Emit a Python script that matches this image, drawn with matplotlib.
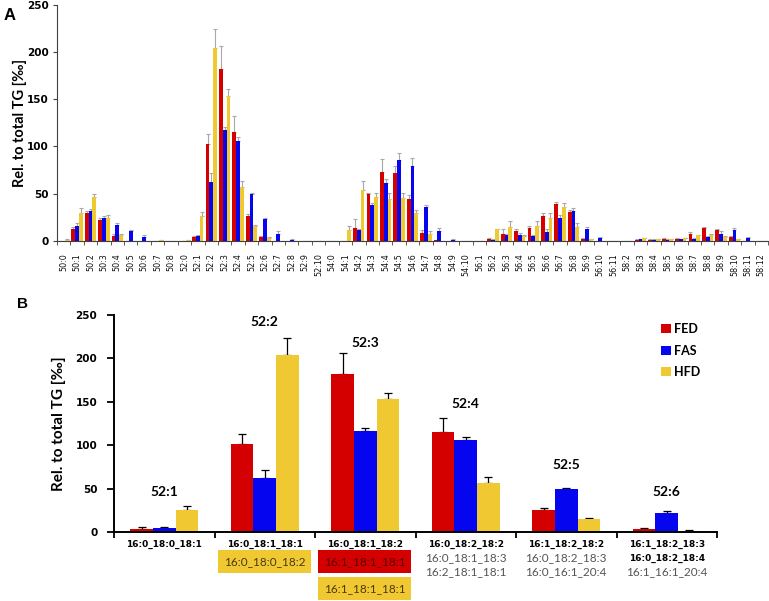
import numpy as np
import matplotlib
matplotlib.use("Agg")
import matplotlib.pyplot as plt
from matplotlib.patches import Rectangle
from matplotlib.transforms import blended_transform_factory

# ---- panel A data: all TG species ----
cats_a = (["50:%d" % i for i in range(0, 9)] + ["52:%d" % i for i in range(0, 11)]
          + ["54:%d" % i for i in range(0, 11)] + ["56:%d" % i for i in range(1, 12)]
          + ["58:%d" % i for i in range(2, 13)])

fed_a = [0, 12, 29, 22, 5, 0, 0, 0, 0,
         0, 3.5, 102, 182, 115, 26, 4, 0, 0, 0, 0,
         0, 0, 13.5, 49, 73, 72, 44.5, 8.5, 0.5, 0, 0,
         0, 1.5, 7.4, 10.6, 13.4, 26, 39, 30.7, 2, 0, 0,
         0, 1, 1, 2, 2, 7, 13.4, 11.3, 3.9, 0, 0]
fed_err_a = [0, 3, 2, 2, 2, 0, 0, 0, 0,
             0, 2, 11, 24, 17, 2, 1, 0, 0, 0, 0,
             0, 0, 9.5, 1.5, 14, 7, 3.5, 2.5, 0, 0, 0,
             0, 1.5, 4.6, 1.4, 2.6, 3, 1.6, 2.3, 0.5, 0, 0,
             0, 0.5, 0.5, 0.5, 0.5, 2.5, 1.6, 1.4, 1.1, 0, 0]
fas_a = [0, 16, 31, 24, 17, 10, 4, 0, 0,
         0, 5, 62, 117, 106, 50, 23, 7, 1, 0, 0,
         0, 0, 11.3, 37.8, 61.4, 85.5, 79.4, 35.7, 10.6, 1, 0,
         0, 1, 6, 6, 5, 9.2, 24, 31.8, 12.7, 2.5, 0,
         0, 1.4, 1, 1, 1.4, 2, 3.9, 7, 11.6, 2.8, 0]
fas_err_a = [0, 3, 3, 2, 2, 1, 2, 0, 0,
             0, 1, 10, 3, 4, 1, 1, 3, 1, 0, 0,
             0, 0, 1, 2, 3.6, 7.5, 8.2, 1.7, 2.4, 1, 0,
             0, 0.5, 1, 1.8, 1, 2.8, 3, 2.8, 1.3, 1.4, 0,
             0, 0.5, 0.5, 0.5, 0.5, 0.5, 1, 3, 1.4, 1.4, 0]
hfd_a = [1, 29, 46, 24, 6, 0, 0, 0.5, 0,
         0.5, 26, 204, 153, 57, 16, 3, 0, 0, 0, 0,
         0, 11.6, 54, 46.6, 44.5, 45.5, 29.7, 7, 0, 0, 0,
         0, 12, 14.8, 5, 15.9, 24.4, 36, 14.5, 1.5, 0, 0,
         0, 2.5, 1.4, 1.4, 2.5, 5.6, 5.6, 3.5, 1.4, 0, 0]
hfd_err_a = [1, 6, 3, 3, 1, 0, 0, 0.5, 0,
             0.5, 4, 20, 8, 6, 1, 1, 0, 0, 0, 0,
             0, 3.5, 9, 4.4, 6.5, 5, 2.8, 3, 0, 0, 0,
             0, 0.5, 6, 1, 4.9, 4.6, 4, 4.2, 0.5, 0, 0,
             0, 0.5, 0.6, 0.5, 0.5, 0.8, 1.4, 1.4, 0.5, 0, 0]

# ---- panel B data: 52:x species ----
groups_b = ["52:1", "52:2", "52:3", "52:4", "52:5", "52:6"]
fed_b = [3.5, 102, 182, 115, 26, 3.5]
fed_err_b = [3, 11, 24, 17, 2, 1.5]
fas_b = [5, 62, 117, 106, 50, 22.5]
fas_err_b = [1.5, 10, 3, 4, 1, 2]
hfd_b = [26, 204, 153, 57, 15, 2]
hfd_err_b = [4, 20, 7, 7, 1, 0.5]
title_y_b = [46, 242, 218, 148, 77, 46]

series = ["FED", "FAS", "HFD"]
colors = ["#d40000", "#0505f0", "#f0c832"]

W, H = 769, 601
fig = plt.figure(figsize=(W / 100, H / 100), dpi=100)


def fx(px):
    return px / W


def fy(py):
    return 1 - py / H


# ================= panel A =================
axA = fig.add_axes([fx(57), fy(240.7), fx(768 - 57), (240.7 - 4.7) / H])
x = np.arange(len(cats_a))
w = 0.28
for k, (vals, errs) in enumerate([(fed_a, fed_err_a), (fas_a, fas_err_a), (hfd_a, hfd_err_a)]):
    errs = np.array(errs)
    axA.bar(x + (k - 1) * w, vals, w, color=colors[k], zorder=2,
            yerr=[np.zeros_like(errs), errs], ecolor="#a8a8a8",
            error_kw=dict(elinewidth=0.8, capsize=1.6, capthick=0.8, zorder=1))
axA.set_xlim(-0.5, len(cats_a) - 0.5)
axA.set_ylim(0, 250)
axA.set_yticks([0, 50, 100, 150, 200, 250])
axA.set_xticks(x)
axA.set_xticklabels(cats_a, rotation=90, fontsize=5.8, family="DejaVu Sans",
                    color="#111111")
axA.set_xticks(np.arange(-0.5, len(cats_a), 1), minor=True)
axA.tick_params(axis="x", which="major", length=0, pad=9)
axA.tick_params(axis="x", which="minor", length=3, color="#404040")
axA.tick_params(axis="y", length=3, color="#404040", labelsize=7.5, pad=3)
for t in axA.get_yticklabels():
    t.set_fontweight("bold")
for s in ["top", "right"]:
    axA.spines[s].set_visible(False)
for s in ["left", "bottom"]:
    axA.spines[s].set_color("#404040")
axA.set_ylabel("Rel. to total TG [‰]", fontsize=10.5, fontweight="bold",
               family="Lato", labelpad=0)
fig.text(fx(10), fy(15), "A", fontsize=12, fontweight="bold",
         family="Liberation Sans", ha="center", va="center")

# ================= panel B =================
axB = fig.add_axes([fx(114), fy(532.3), fx(717 - 114), (532.3 - 315) / H])
xb = np.arange(len(groups_b))
wb = 0.225
for k, (vals, errs) in enumerate([(fed_b, fed_err_b), (fas_b, fas_err_b), (hfd_b, hfd_err_b)]):
    errs = np.array(errs)
    axB.bar(xb + (k - 1) * wb, vals, wb, color=colors[k], zorder=2, label=series[k],
            yerr=[np.zeros_like(errs), errs], ecolor="black",
            error_kw=dict(elinewidth=0.9, capsize=3, capthick=0.9, zorder=1))
axB.set_xlim(-0.5, len(groups_b) - 0.5)
axB.set_ylim(0, 250)
axB.set_yticks([0, 50, 100, 150, 200, 250])
axB.set_xticks(np.arange(-0.5, len(groups_b), 1))
axB.set_xticklabels([])
axB.tick_params(axis="x", length=4, width=1.3, direction="out")
axB.tick_params(axis="y", length=5, width=1.3, labelsize=7.5, pad=7)
for t in axB.get_yticklabels():
    t.set_fontweight("bold")
for s in ["top", "right"]:
    axB.spines[s].set_visible(False)
for s in ["left", "bottom"]:
    axB.spines[s].set_linewidth(1.4)
axB.set_ylabel("Rel. to total TG [‰]", fontsize=11, fontweight="bold",
               family="Lato", labelpad=7)

for g, name in enumerate(groups_b):
    axB.text(g, title_y_b[g], name, ha="center", va="center", fontsize=10,
             fontweight="bold", family="Lato")

# species annotations under each group
tr = blended_transform_factory(axB.transData, axB.transAxes)
main_b = ["16:0_18:0_18:1", "16:0_18:1_18:1", "16:0_18:1_18:2",
          "16:0_18:2_18:2", "16:1_18:2_18:2", "16:1_18:2_18:3"]
extra_b = [[], [], [],
           ["16:0_18:1_18:3", "16:2_18:1_18:1"],
           ["16:0_18:2_18:3", "16:0_16:1_20:4"],
           ["16:0_18:2_18:4", "16:1_16:1_20:4"]]
extra_bold = [[], [], [], [False, False], [False, False], [True, False]]
boxes_b = [[], [("16:0_18:0_18:2", colors[2], "#4a3a10")],
           [("16:1_18:1_18:1", colors[0], "#5a0000"),
            ("16:1_18:1_18:1", colors[2], "#4a3a10")],
           [], [], []]

line_y = [-0.054, -0.118, -0.183]
box_y = [(-0.187, -0.081), (-0.311, -0.206)]
for g in range(len(groups_b)):
    axB.text(g, line_y[0], main_b[g], transform=tr, ha="center", va="center",
             fontsize=6.5, fontweight="bold", family="DejaVu Sans", clip_on=False)
    for j, s in enumerate(extra_b[g]):
        if extra_bold[g][j]:
            axB.text(g, line_y[j + 1], s, transform=tr, ha="center", va="center",
                     fontsize=6.5, fontweight="bold", family="DejaVu Sans")
        else:
            axB.text(g, line_y[j + 1], s, transform=tr, ha="center", va="center",
                     fontsize=8.5, color="#555555", family="Lato")
    for j, (s, fc, tc) in enumerate(boxes_b[g]):
        y0, y1 = box_y[j]
        axB.add_patch(Rectangle((g - 0.47, y0), 0.93, y1 - y0, transform=tr,
                                facecolor=fc, edgecolor="none", clip_on=False))
        axB.text(g, (y0 + y1) / 2, s, transform=tr, ha="center", va="center",
                 fontsize=8.5, color=tc, family="Lato")

axB.legend(loc="upper left", bbox_to_anchor=(fx(650), fy(312)),
           bbox_transform=fig.transFigure, frameon=False, handlelength=0.75,
           handleheight=0.75, handletextpad=0.3, labelspacing=0.75,
           prop=dict(family="Lato", weight="bold", size=9))

fig.text(fx(22), fy(304), "B", fontsize=11, fontweight="bold",
         family="Liberation Sans", ha="center", va="center")

fig.savefig("out.png", dpi=100)
